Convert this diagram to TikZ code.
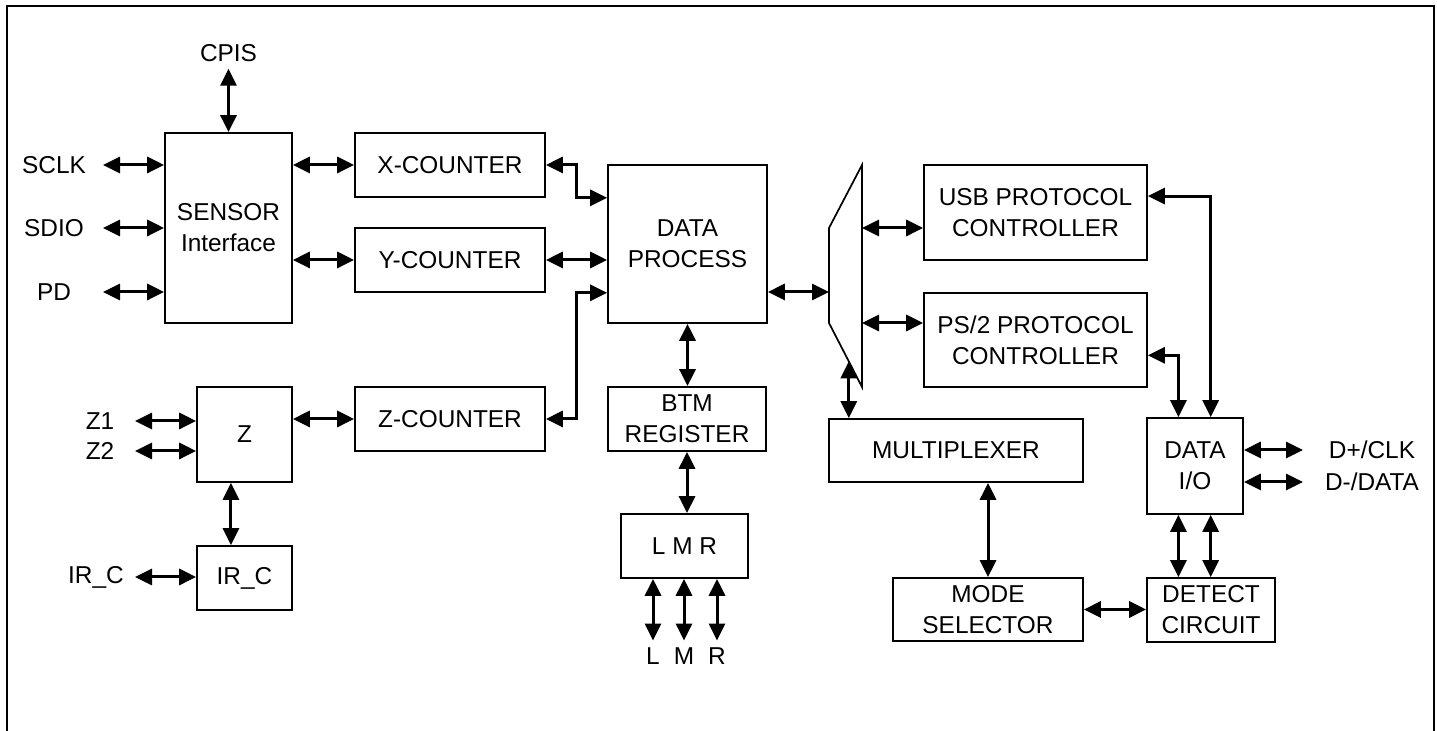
\documentclass[tikz,border=0pt]{standalone}
\usepackage{fontspec}
\setmainfont{Liberation Sans}
\usetikzlibrary{arrows.meta,calc}
\tikzset{
  box/.style={draw, line width=0.85pt, inner sep=0pt, align=center},
  link/.style={<->, line width=1.5pt},
}
\begin{document}
\begin{tikzpicture}[>={Triangle[length=8.5pt,width=8pt]}, x=0.5pt, y=-0.5pt, font=\fontsize{12.2}{15.5}\selectfont]
\useasboundingbox (0,0) rectangle (1437,731);
\draw[line width=1pt] (7,745)--(7,6)--(1434,6)--(1434,745);

\node[box, minimum width=63.5pt, minimum height=95pt] (sensor) at (228.5,228) {SENSOR\\Interface};
\node[box, minimum width=95pt, minimum height=32pt] (xcnt) at (450,165) {X-COUNTER};
\node[box, minimum width=95pt, minimum height=32pt] (ycnt) at (450,260) {Y-COUNTER};
\node[box, minimum width=95pt, minimum height=32pt] (zcnt) at (450,419) {Z-COUNTER};
\node[box, minimum width=79.5pt, minimum height=79pt] (dp) at (687.5,244) {DATA\\PROCESS};
\node[box, minimum width=79pt, minimum height=32pt] (btm) at (687,419) {BTM\\REGISTER};
\node[box, minimum width=63.5pt, minimum height=32pt] (lmr) at (684.5,546) {L M R};
\node[box, minimum width=47.5pt, minimum height=47.5pt] (zbox) at (244.5,434.5) {Z};
\node[box, minimum width=47.5pt, minimum height=32pt] (irc) at (244.5,578) {IR\_C};
\node[box, minimum width=111.5pt, minimum height=47.5pt] (usb) at (1035.5,212.5) {USB PROTOCOL\\CONTROLLER};
\node[box, minimum width=111.5pt, minimum height=47pt] (ps2) at (1035.5,340) {PS/2 PROTOCOL\\CONTROLLER};
\node[box, minimum width=127pt, minimum height=31.5pt] (mux) at (956,450.5) {MULTIPLEXER};
\node[box, minimum width=95pt, minimum height=31.5pt] (mode) at (988,609.5) {MODE\\SELECTOR};
\node[box, minimum width=48pt, minimum height=48pt] (dio) at (1195,466) {DATA\\I/O};
\node[box, minimum width=64pt, minimum height=32pt] (detect) at (1211,610) {DETECT\\CIRCUIT};

\coordinate (sw-tl) at (829,228);
\coordinate (sw-tr) at (862,165);
\coordinate (sw-br) at (862,387);
\coordinate (sw-bl) at (829,323);
\draw[line width=0.85pt] (sw-tl)--(sw-tr)--(sw-br)--(sw-bl)--cycle;
\coordinate (sw-in) at (829,292);
\coordinate (sw-out) at ($(sw-bl)!0.6!(sw-br)$);

\node (cpis) at (228.5,53) {CPIS};
\draw[link] (cpis.south)--(sensor.north);
\foreach \n/\t/\y in {sclk/SCLK/165, sdio/SDIO/228, pd/PD/292}
{
    \node (\n) at (54,\y) {\t};
    \coordinate (\n-pin) at (103,\y);
    \draw[link] (\n-pin)--(sensor.west|-\n-pin);
}
\foreach \n/\t/\y in {z1/Z1/421, z2/Z2/451}
{
    \node (\n) at (100,\y) {\t};
    \coordinate (\n-pin) at (135,\y);
    \draw[link] (\n-pin)--(zbox.west|-\n-pin);
}
\node (irc-lbl) at (96,577) {IR\_C};
\coordinate (irc-pin) at (135,577);
\draw[link] (irc-pin)--(irc.west|-irc-pin);

\draw[link] (sensor.east|-xcnt)--(xcnt.west);
\draw[link] (sensor.east|-ycnt)--(ycnt.west);
\draw[link] (zbox.east|-zcnt)--(zcnt.west);
\coordinate (zbox-out) at ($(zbox.south west)!0.36!(zbox.south east)$);
\draw[link] (zbox-out)--(zbox-out|-irc.north);

\draw[link] (xcnt.east)--++(31,0)|-(dp.west|-xcnt.south);
\draw[link] (ycnt.east)--(dp.west|-ycnt.east);
\draw[link] (zcnt.east)--++(31,0)|-(dp.west|-ycnt.south);
\draw[link] (dp.south)--(dp.south|-btm.north);
\draw[link] (btm.south)--(btm.south|-lmr.north);
\foreach \n/\t/\x in {l/L/653, m/M/684, r/R/717}
{
    \node (\n) at (\x,656) {\t};
    \draw[link] (\n.north|-lmr.south)--(\n.north);
}

\draw[link] (dp.east|-sw-in)--(sw-in);
\draw[link] (sw-tr|-sw-tl)--(usb.west|-sw-tl);
\draw[link] (sw-tr|-sw-bl)--(ps2.west|-sw-bl);
\draw[link] (sw-out)--(sw-out|-mux.north);
\draw[link] (mode.north|-mux.south)--(mode.north);
\draw[link] (mode.east)--(detect.west|-mode.east);

\coordinate (usb-out) at ($(usb.north east)!0.33!(usb.south east)$);
\coordinate (ps2-out) at ($(ps2.north east)!0.66!(ps2.south east)$);
\coordinate (dio-a) at ($(dio.north west)!0.33!(dio.north east)$);
\coordinate (dio-b) at ($(dio.north west)!0.66!(dio.north east)$);
\draw[link] (usb-out)-|(dio-b);
\draw[link] (ps2-out)-|(dio-a);
\draw[link] (dio-a|-dio.south)--(dio-a|-detect.north);
\draw[link] (dio-b|-dio.south)--(dio-b|-detect.north);

\foreach \n/\t/\y in {dclk/{D+/CLK}/450, ddata/{D-/DATA}/482}
{
    \node (\n) at (1372,\y) {\t};
    \coordinate (\n-pin) at (1303,\y);
    \draw[link] (dio.east|-\n-pin)--(\n-pin);
}
\end{tikzpicture}
\end{document}
